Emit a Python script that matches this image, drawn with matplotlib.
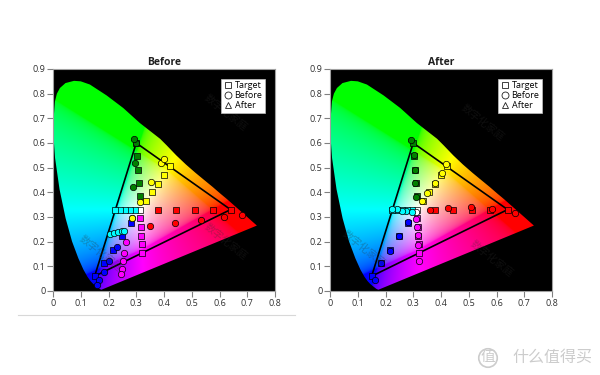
""" CIE 1931 gamut plots, before and after calibration. """

import numpy as np
import matplotlib
matplotlib.use('Agg')
import matplotlib.pyplot as plt
from matplotlib.lines import Line2D
from matplotlib.patches import Polygon

plt.rcParams['font.family'] = ['Open Sans', 'Noto Sans CJK SC', 'DejaVu Sans']

### DATA ###

# Spectrum locus as it is drawn in the picture
locus_x = [0.1741, 0.1666, 0.1510, 0.1440, 0.1355, 0.1241, 0.1096, 0.0913, 0.0687, 0.0454, 0.0235, 0.0075,
    0.0030, 0.0025, 0.0070, 0.0140, 0.0250, 0.0450, 0.0757, 0.1000, 0.1330, 0.1930, 0.2530, 0.3130, 0.3860,
    0.4100, 0.4441, 0.4788, 0.5125, 0.5448, 0.5752, 0.6029, 0.6270, 0.6482, 0.6658, 0.6801, 0.6915, 0.7006,
    0.7079, 0.7140, 0.7190, 0.7347]
locus_y = [0.0050, 0.0089, 0.0229, 0.0297, 0.0399, 0.0578, 0.0868, 0.1327, 0.2007, 0.2950, 0.4127, 0.5384,
    0.6080, 0.7010, 0.7690, 0.8000, 0.8230, 0.8430, 0.8520, 0.8500, 0.8370, 0.7930, 0.7420, 0.6810, 0.6170,
    0.5900, 0.5500, 0.5130, 0.4800, 0.4500, 0.4220, 0.3950, 0.3725, 0.3514, 0.3340, 0.3197, 0.3083, 0.2993,
    0.2920, 0.2859, 0.2809, 0.2653]

gamut_x = [0.64, 0.30, 0.15]
gamut_y = [0.33, 0.60, 0.06]

group_colors = ['white', 'red', 'green', 'blue', 'yellow', 'cyan', 'magenta']

# Targets, in the order of group_colors
target_x = [[0.3127], [0.38, 0.445, 0.51, 0.575, 0.64], [0.313, 0.31, 0.307, 0.303, 0.30],
    [0.281, 0.248, 0.215, 0.183, 0.15], [0.336, 0.358, 0.379, 0.40, 0.42],
    [0.294, 0.276, 0.258, 0.24, 0.222], [0.315, 0.316, 0.318, 0.32, 0.32]]
target_y = [[0.329], [0.33, 0.33, 0.33, 0.33, 0.33], [0.385, 0.438, 0.49, 0.547, 0.60],
    [0.276, 0.222, 0.168, 0.113, 0.06], [0.365, 0.40, 0.434, 0.47, 0.507],
    [0.33, 0.33, 0.33, 0.33, 0.33], [0.295, 0.26, 0.225, 0.19, 0.154]]

before_x = [[0.283], [0.35, 0.44, 0.533, 0.616, 0.681], [0.288, 0.295, 0.299, 0.292],
    [0.232, 0.203, 0.184, 0.165, 0.16], [0.284, 0.314, 0.353, 0.389, 0.40],
    [0.205, 0.22, 0.235, 0.25, 0.255], [0.263, 0.256, 0.252, 0.249, 0.245]]
before_y = [[0.296], [0.263, 0.275, 0.288, 0.30, 0.308], [0.42, 0.519, 0.60, 0.616],
    [0.18, 0.122, 0.078, 0.045, 0.025], [0.296, 0.36, 0.442, 0.519, 0.535],
    [0.232, 0.237, 0.24, 0.245, 0.243], [0.199, 0.154, 0.122, 0.089, 0.069]]

after_x = [[0.31], [0.36, 0.425, 0.508, 0.584, 0.667], [0.31, 0.306, 0.306, 0.303, 0.292],
    [0.281, 0.248, 0.216, 0.184, 0.162], [0.332, 0.35, 0.378, 0.404, 0.418],
    [0.295, 0.274, 0.26, 0.241, 0.223], [0.31, 0.314, 0.317, 0.317, 0.321]]
after_y = [[0.32], [0.328, 0.336, 0.34, 0.332, 0.316], [0.381, 0.438, 0.49, 0.551, 0.612],
    [0.28, 0.223, 0.161, 0.113, 0.044], [0.365, 0.397, 0.436, 0.478, 0.515],
    [0.32, 0.324, 0.324, 0.332, 0.332], [0.292, 0.26, 0.227, 0.187, 0.121]]

x_ticks = [0, 0.1, 0.2, 0.3, 0.4, 0.5, 0.6, 0.7, 0.8]
y_ticks = [0, 0.1, 0.2, 0.3, 0.4, 0.5, 0.6, 0.7, 0.8, 0.9]
tick_labels_x = ['0', '0.1', '0.2', '0.3', '0.4', '0.5', '0.6', '0.7', '0.8']
tick_labels_y = ['0', '0.1', '0.2', '0.3', '0.4', '0.5', '0.6', '0.7', '0.8', '0.9']

###


def chromaticityImage(n=500):
    """ Saturated sRGB colors on an xy grid. """

    x, y = np.meshgrid(np.linspace(0, 0.8, n), np.linspace(0, 0.9, n))
    y_safe = np.maximum(y, 1e-3)

    big_x = x/y_safe
    big_z = (1 - x - y)/y_safe

    r = 3.2406*big_x - 1.5372 - 0.4986*big_z
    g = -0.9689*big_x + 1.8758 + 0.0415*big_z
    b = 0.0557*big_x - 0.2040 + 1.0570*big_z

    rgb = np.clip(np.dstack([r, g, b]), 0, None)
    rgb = rgb/np.max(rgb, axis=2, keepdims=True)

    # Cut the small components so the edges stay fully saturated
    rgb = np.clip((rgb - 0.05)/0.95, 0, 1)

    return rgb**(1/2.6)


def plotPanel(left_px, title, circle_x, circle_y, wm_list):

    # Axes position is given in pixels of the 600x375 figure
    ax = fig.add_axes([left_px/600, 1 - 291/375, 222/600, 222/375])
    ax.set_facecolor('k')

    img = ax.imshow(chromaticityImage(), origin='lower', extent=[0, 0.8, 0, 0.9], aspect='auto',
        interpolation='bilinear', zorder=1)
    locus = Polygon(np.column_stack([locus_x, locus_y]), closed=True, transform=ax.transData, fc='none', ec='none')
    ax.add_patch(locus)
    img.set_clip_path(locus)

    # Gamut triangle
    ax.plot(gamut_x + gamut_x[:1], gamut_y + gamut_y[:1], color='k', lw=1.2, zorder=3)

    # Targets and measurements
    for i, color in enumerate(group_colors):
        ax.plot(target_x[i], target_y[i], ls='none', marker='s', ms=4.6, mfc=color, mec='k', mew=0.5, zorder=4)
    for i, color in enumerate(group_colors):
        ax.plot(circle_x[i], circle_y[i], ls='none', marker='o', ms=4.6, mfc=color, mec='k', mew=0.5, zorder=5)

    # Faint watermark
    for wm_x, wm_y in wm_list:
        ax.text(wm_x, wm_y, '数字化家庭', color='#303030', alpha=0.3, fontsize=7.5, rotation=-38, ha='center',
            va='center', zorder=6, clip_on=True)

    ax.set_xlim(0, 0.8)
    ax.set_ylim(0, 0.9)
    ax.set_xticks(x_ticks)
    ax.set_xticklabels(tick_labels_x)
    ax.set_yticks(y_ticks)
    ax.set_yticklabels(tick_labels_y)
    ax.tick_params(labelsize=6.5, length=4, width=0.8, color='#808080', labelcolor='#303030', pad=1.5)

    for spine in ax.spines.values():
        spine.set_edgecolor('#a0a0a0')
        spine.set_linewidth(0.8)

    ax.set_title(title, fontsize=7.5, fontweight='bold', color='#202020', pad=3)

    handles = [Line2D([], [], ls='none', marker=m, ms=5, mfc='white', mec='#202020', mew=0.6)
        for m in ['s', 'o', '^']]
    leg = ax.legend(handles, ['Target', 'Before', 'After'], loc='upper left', bbox_to_anchor=(0.755, 0.955),
        fontsize=6.5, frameon=True, fancybox=False, framealpha=1, facecolor='white', edgecolor='#c0c0c0',
        handletextpad=0.1, labelspacing=0.12, borderpad=0.25, borderaxespad=0, handlelength=1.2)
    leg.get_frame().set_linewidth(0.5)
    leg.set_zorder(7)


fig = plt.figure(figsize=(6, 3.75), dpi=100, facecolor='white')

plotPanel(53, 'Before', before_x, before_y, [(0.62, 0.72), (0.62, 0.2), (0.17, 0.15)])
plotPanel(330, 'After', after_x, after_y, [(0.55, 0.68), (0.58, 0.13), (0.12, 0.17)])

# Thin rule under the left chart
fig.add_artist(Line2D([18/600, 295/600], [1 - 315/375, 1 - 315/375], color='#d8d8d8', lw=0.8))

# Site watermark in the bottom right corner
fig.text(552/600, 1 - 358/375, '什么值得买', color='#cccccc', fontsize=11.5, ha='center', va='center')
fig.text(488/600, 1 - 358/375, '值', color='#cccccc', fontsize=10.5, ha='center', va='center',
    bbox=dict(boxstyle='circle,pad=0.12', fc='none', ec='#cccccc', lw=1.2))

plt.savefig('out.png', dpi=100, facecolor=fig.get_facecolor())
plt.close()
